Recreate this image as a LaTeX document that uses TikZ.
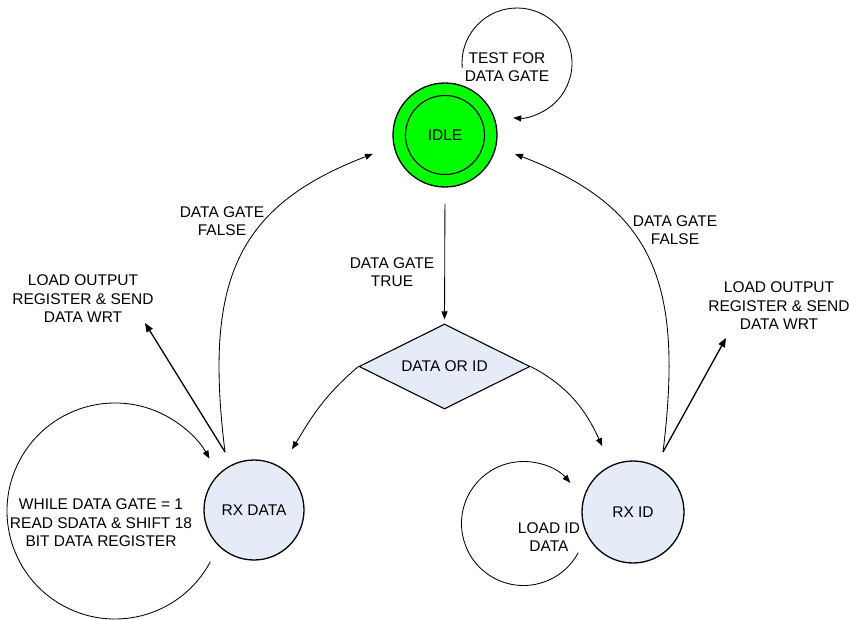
\documentclass[tikz,border=0pt]{standalone}
\usepackage{fontspec}
\setmainfont{Liberation Sans}
\usetikzlibrary{shapes.geometric,arrows.meta,calc}
\definecolor{idlegreen}{RGB}{0,255,0}
\definecolor{statefill}{RGB}{230,236,247}
\begin{document}
\begin{tikzpicture}[x=1pt,y=1pt,
  every node/.style={font=\fontsize{15.5}{18.5}\selectfont},
  state/.style={circle, draw, line width=1.3pt, fill=statefill, inner sep=0pt},
  decision/.style={diamond, aspect=2, draw, line width=1.1pt, fill=statefill, inner sep=0pt,
    minimum width=171pt, minimum height=85pt},
  lbl/.style={align=center, inner sep=0pt},
  flow/.style={line width=0.85pt, -{Triangle[length=8pt,width=6pt]}},
  output/.style={line width=1.3pt, -{Triangle[length=9pt,width=7pt]}},
]
\useasboundingbox (0,0) rectangle (849,-620);

% states and the decision
\node[state, fill=idlegreen, minimum size=104pt] (idle) at (445,-135) {IDLE};
\draw[line width=1.1pt] (idle.center) circle[radius=39.5pt];
\node[state, minimum size=100pt] (rxdata) at (254,-510) {RX DATA};
\node[state, minimum size=102pt] (rxid) at (633,-512) {RX ID};
\node[decision] (choice) at (444.5,-366.5) {DATA OR ID};

% points where the outgoing lines of the receive states meet
\coordinate (dataout) at (225,-452);
\coordinate (idout) at (663,-452);
\coordinate (dataouttip) at (145,-323);
\coordinate (idouttip) at (726,-338);

% centres of the self loops
\coordinate (tloop) at (517,-63);
\coordinate (dloop) at (115,-511);
\coordinate (iloop) at (523.5,-523.5);

% labels
\node[lbl] (ltest) at (507,-67) {TEST FOR\\DATA GATE};
\node[lbl] (ltrue) at (392,-272) {DATA GATE\\TRUE};
\node[lbl] (lfalsel) at (222,-221) {DATA GATE\\FALSE};
\node[lbl] (lfalser) at (675,-230) {DATA GATE\\FALSE};
\node[lbl] (loadl) at (83,-299) {LOAD OUTPUT\\REGISTER \& SEND\\DATA WRT};
\node[lbl] (loadr) at (779,-306) {LOAD OUTPUT\\REGISTER \& SEND\\DATA WRT};
\node[lbl] (lshift) at (101,-523) {WHILE DATA GATE = 1\\READ SDATA \& SHIFT 18\\BIT DATA REGISTER};
\node[lbl] (lloadid) at (549,-537) {LOAD ID\\DATA};

% transitions
\draw[flow, shorten <=16pt, shorten >=4pt] (idle.south) -- (choice.north);
\draw[flow, shorten >=21pt] (choice.west) to[out=220, in=58] (rxdata.58);
\draw[flow, shorten >=21pt] (choice.east) to[out=-27, in=115] (rxid.115);
\draw[flow, shorten >=22pt] (dataout) to[out=97, in=201, looseness=1.25] (idle.192);
\draw[flow, shorten >=20pt] (idout) to[out=83, in=-21, looseness=1.25] (idle.-13);
\draw[output] (dataout) -- (dataouttip);
\draw[output] (idout) -- (idouttip);

% self loops
\draw[flow] ([shift={(185:55pt)}]tloop) arc[start angle=185, end angle=-94, radius=55pt];
\draw[flow] ([shift={(-28:108pt)}]dloop) arc[start angle=-28, end angle=-331, radius=108pt];
\draw[flow] ([shift={(-28:62pt)}]iloop) arc[start angle=-28, end angle=-319, radius=62pt];
\end{tikzpicture}
\end{document}
